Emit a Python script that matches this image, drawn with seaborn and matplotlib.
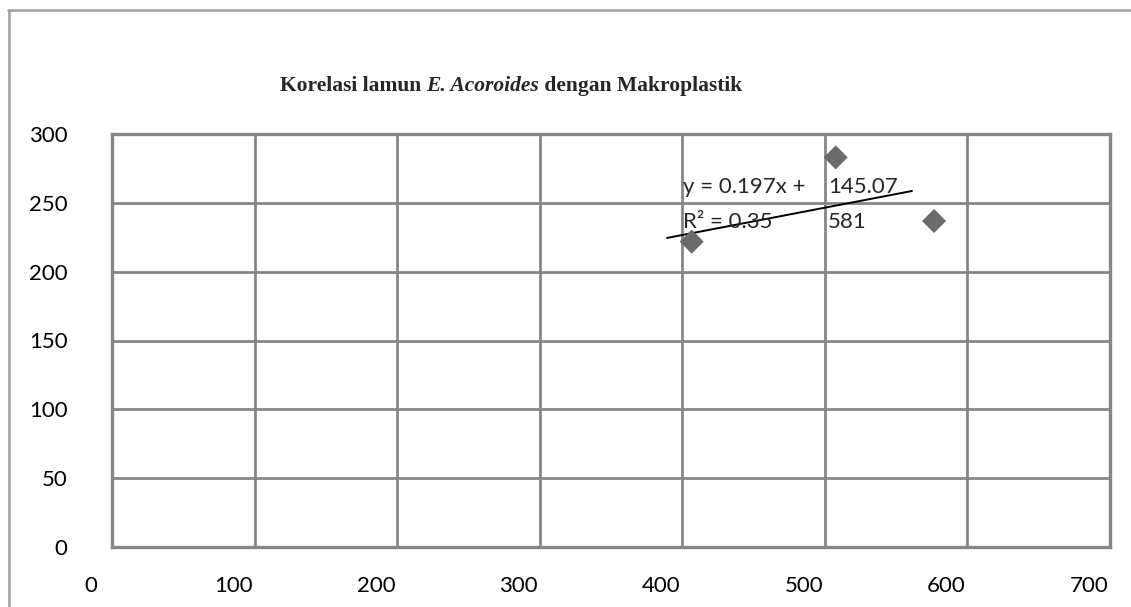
import matplotlib
matplotlib.use("Agg")
import matplotlib.pyplot as plt
import seaborn as sns
import pandas as pd
from matplotlib.transforms import ScaledTranslation
from matplotlib.lines import Line2D

# data
x_vals = [406.6, 507.6, 576.6]
y_vals = [221.8, 283.0, 236.8]
trend_x = [389.3, 561.1]
trend_y = [224.5, 258.6]
x_ticks = [0, 100, 200, 300, 400, 500, 600, 700]
y_ticks = [0, 50, 100, 150, 200, 250, 300]
eq_parts = ["y = 0.197x +", "145.07", "R² = 0.35", "581"]
title_parts = ["Korelasi lamun ", "E. Acoroides", " dengan Makroplastik"]

sns.set_theme(style="white")
plt.rcParams['font.family'] = ['Lato', 'DejaVu Sans']

W, H = 1131, 607
fig = plt.figure(figsize=(W / 100, H / 100), dpi=100)
ax = fig.add_axes([112 / W, (H - 547) / H, (1110 - 112) / W, (547 - 134) / H])

df = pd.DataFrame({"x": x_vals, "y": y_vals})
sns.scatterplot(data=df, x="x", y="y", ax=ax, marker="D", s=150, color="#6b6b6b",
                edgecolor="none", zorder=4)
sns.lineplot(x=trend_x, y=trend_y, ax=ax, color="black", linewidth=1.4, zorder=3)

ax.set_xlim(0, 700)
ax.set_ylim(0, 300)
ax.set_xticks(x_ticks)
ax.set_yticks(y_ticks)
ax.set_xticklabels([str(t) for t in x_ticks])
ax.set_yticklabels([str(t) for t in y_ticks])
ax.set_xlabel("")
ax.set_ylabel("")
ax.grid(True, color="#868686", linewidth=2)
ax.set_axisbelow(True)
for sp in ax.spines.values():
    sp.set_color("#868686")
    sp.set_linewidth(2.4)
    sp.set_visible(True)
ax.tick_params(axis="both", length=0, labelsize=16, colors="black")
ax.tick_params(axis="x", pad=21)
ax.tick_params(axis="y", pad=32)
off = ScaledTranslation(-21 / 100, 0, fig.dpi_scale_trans)
for lab in ax.get_xticklabels():
    lab.set_transform(lab.get_transform() + off)

# equation text
ex1, ex2 = 400.5, 502.2
ey1, ey2 = 261.5, 236.1
ax.text(ex1, ey1, eq_parts[0], fontsize=16, va="center", ha="left", zorder=5)
ax.text(ex2, ey1, eq_parts[1], fontsize=16, va="center", ha="left", zorder=5)
ax.text(ex1, ey2, eq_parts[2], fontsize=16, va="center", ha="left", zorder=5)
ax.text(ex2, ey2, eq_parts[3], fontsize=16, va="center", ha="left", zorder=5)

# title built from pieces
renderer = fig.canvas.get_renderer()
x0 = 280
ty = H - 91
styles = ["normal", "italic", "normal"]
for part, st in zip(title_parts, styles):
    t = fig.text(x0 / W, ty / H, part, fontsize=15.5, fontweight="bold", fontstyle=st,
                 family=["Liberation Serif", "DejaVu Serif"], ha="left", va="baseline")
    bb = t.get_window_extent(renderer=renderer)
    x0 += bb.width

# outer border (top and left)
fig.add_artist(Line2D([8 / W, 1], [1 - 10 / H, 1 - 10 / H], transform=fig.transFigure,
                      color="#a0a0a0", linewidth=1.8))
fig.add_artist(Line2D([8.5 / W, 8.5 / W], [0, 1 - 10 / H], transform=fig.transFigure,
                      color="#a0a0a0", linewidth=1.8))

fig.savefig("out.png", dpi=100)
